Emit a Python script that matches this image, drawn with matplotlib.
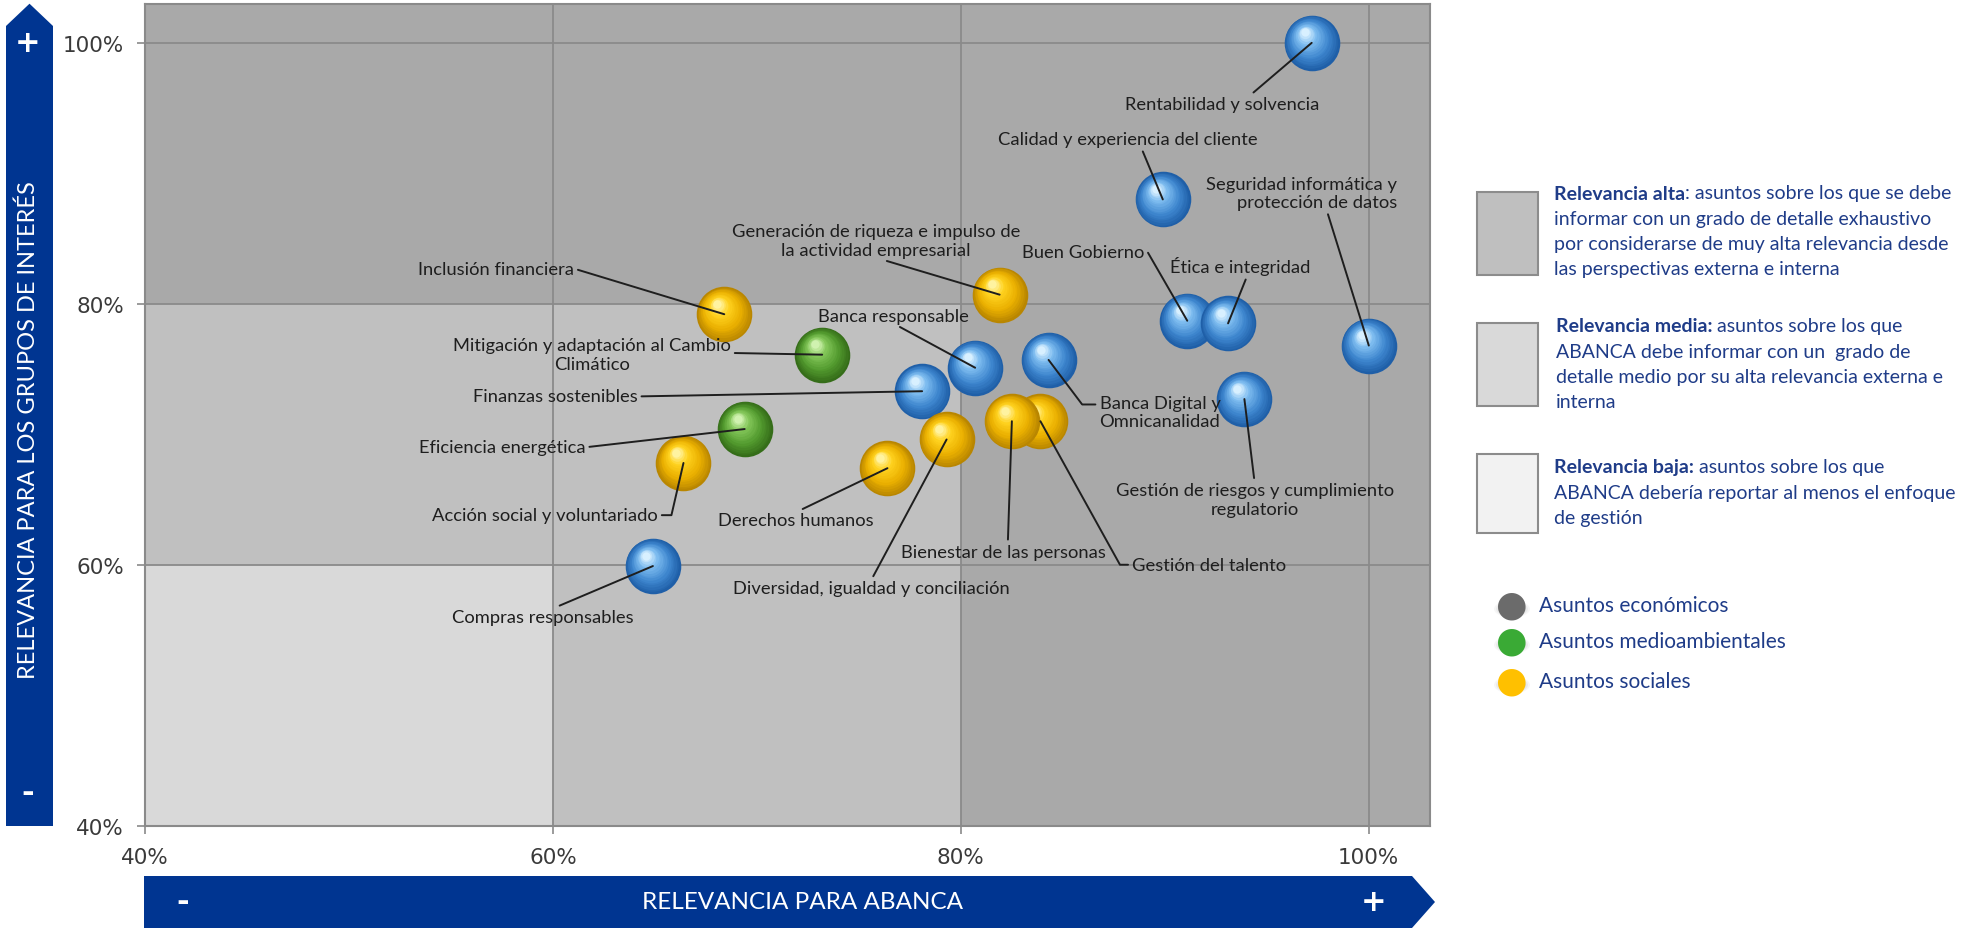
import matplotlib
matplotlib.use("Agg")
import numpy as np
import matplotlib.pyplot as plt
from matplotlib.patches import Rectangle, Polygon
from matplotlib.transforms import ScaledTranslation
from matplotlib.colors import to_rgb

# --- data -------------------------------------------------------------
topics = [
    "Rentabilidad y solvencia",
    "Calidad y experiencia del cliente",
    "Seguridad informática y\nprotección de datos",
    "Buen Gobierno",
    "Ética e integridad",
    "Gestión de riesgos y cumplimiento\nregulatorio",
    "Banca Digital y\nOmnicanalidad",
    "Banca responsable",
    "Finanzas sostenibles",
    "Generación de riqueza e impulso de\nla actividad empresarial",
    "Inclusión financiera",
    "Mitigación y adaptación al Cambio\nClimático",
    "Eficiencia energética",
    "Acción social y voluntariado",
    "Derechos humanos",
    "Diversidad, igualdad y conciliación",
    "Gestión del talento",
    "Bienestar de las personas",
    "Compras responsables",
]
relevance_abanca = [97.2, 89.9, 100.0, 91.1, 93.1, 93.9, 84.3, 80.7, 78.1, 81.9,
                    68.4, 73.2, 69.4, 66.4, 76.4, 79.3, 83.9, 82.5, 64.9]
relevance_stakeholders = [100.0, 88.0, 76.8, 78.7, 78.5, 72.7, 75.7, 75.1, 73.3, 80.7,
                          79.2, 76.1, 70.4, 67.8, 67.4, 69.6, 71.0, 71.0, 59.9]
category = ["eco", "eco", "eco", "eco", "eco", "eco", "eco", "eco", "eco", "soc",
            "soc", "env", "env", "soc", "soc", "soc", "soc", "soc", "eco"]

thresholds = [60, 80]
axis_ticks = [40, 60, 80, 100]
tick_labels = ["40%", "60%", "80%", "100%"]

legend_boxes = [
    ("Relevancia alta", ": asuntos sobre los que se debe",
     ["informar con un grado de detalle exhaustivo",
      "por considerarse de muy alta relevancia desde",
      "las perspectivas externa e interna"]),
    ("Relevancia media:", " asuntos sobre los que",
     ["ABANCA debe informar con un  grado de",
      "detalle medio por su alta relevancia externa e",
      "interna"]),
    ("Relevancia baja:", " asuntos sobre los que",
     ["ABANCA debería reportar al menos el enfoque",
      "de gestión"]),
]
legend_series = ["Asuntos económicos", "Asuntos medioambientales", "Asuntos sociales"]

# --- layout / styles ---------------------------------------------------
# label placement: (x, y, ha, relpos, connectionstyle)
label_layout = [
    (92.8, 95.3, "center", (0.64, 1), None),
    (88.2, 92.6, "center", (0.55, 0), None),
    (101.4, 88.5, "right", (0.63, 0), None),
    (89.0, 84.0, "right", (1, 0.5), "angle,angleA=0,angleB=120,rad=0"),
    (93.7, 82.9, "center", (0.55, 0), None),
    (94.4, 65.0, "center", (0.5, 1), None),
    (86.8, 71.7, "left", (0, 0.72), "angle,angleA=0,angleB=127,rad=0"),
    (76.7, 79.1, "center", (0.5, 0), None),
    (60.1, 72.9, "center", (1, 0.5), None),
    (75.85, 84.85, "center", (0.5, 0), None),
    (57.2, 82.7, "center", (1, 0.5), None),
    (61.9, 76.1, "center", (1, 0.55), None),
    (57.5, 69.0, "center", (1, 0.5), None),
    (59.6, 63.8, "center", (1, 0.5), "angle,angleA=0,angleB=77,rad=0"),
    (71.9, 63.4, "center", (0.5, 1), None),
    (75.6, 58.2, "center", (0.5, 1), None),
    (88.4, 60.0, "left", (0, 0.5), "angle,angleA=0,angleB=119,rad=0"),
    (82.1, 61.0, "center", (0.52, 1), None),
    (59.5, 56.0, "center", (0.55, 1), None),
]

palettes = {
    "eco": ["#1f5fa8", "#3f87cf", "#7fbdf0", "#d8f0ff"],
    "soc": ["#b98600", "#eab000", "#ffd21f", "#fff3a0"],
    "env": ["#356d19", "#529a2e", "#84c75a", "#d0f2b0"],
}
legend_dot_colors = ["#6b6b6b", "#3aaa35", "#ffc000"]

bg_dark, bg_mid, bg_light = "#a9a9a9", "#c0c0c0", "#d9d9d9"
grid_col = "#8a8a8a"
navy = "#003591"
legend_blue = "#1f3c88"
label_col = "#1e1e1e"

W, H = 1964, 929
fx = lambda px: px / W
fy = lambda py: 1 - py / H

fig = plt.figure(figsize=(W / 100, H / 100), dpi=100)
ax = fig.add_axes([fx(145), fy(826.7), (1430 - 145) / W, (826.7 - 4.7) / H])
ax.set_xlim(40, 103)
ax.set_ylim(40, 103)

# background zones
ax.set_facecolor(bg_dark)
lo, hi = thresholds
ax.add_patch(Rectangle((40, 40), hi - 40, hi - 40, facecolor=bg_mid, edgecolor="none", zorder=0.5))
ax.add_patch(Rectangle((40, 40), lo - 40, lo - 40, facecolor=bg_light, edgecolor="none", zorder=0.6))

ax.set_xticks(axis_ticks)
ax.set_xticklabels(tick_labels)
ax.set_yticks(axis_ticks)
ax.set_yticklabels(tick_labels)
ax.grid(True, color=grid_col, linewidth=1.3)
ax.tick_params(axis="both", direction="out", length=6, width=1.2, color=grid_col,
               labelsize=15.5, labelcolor="#3a3a3a", pad=9)
for s in ax.spines.values():
    s.set_color(grid_col)
    s.set_linewidth(1.5)


def mix(stops, t):
    pos = [0, 0.35, 0.75, 1.0]
    rgb = np.array([to_rgb(c) for c in stops])
    return tuple(np.interp(t, pos, rgb[:, k]) for k in range(3))


def draw_sphere(x, y, stops, diam=40, layers=16, z=3):
    r = diam / 2
    for i in range(layers):
        t = i / (layers - 1)
        f = 1 - 0.85 * t
        off = (1 - f) * r * 0.55
        tr = ax.transData + ScaledTranslation(-off * 0.55 / 72, off * 0.8 / 72, fig.dpi_scale_trans)
        ax.scatter([x], [y], s=(diam * f) ** 2, color=[mix(stops, t)], linewidths=0,
                   transform=tr, zorder=z)


for xv, yv, cat in zip(relevance_abanca, relevance_stakeholders, category):
    draw_sphere(xv, yv, palettes[cat])

for name, xv, yv, (tx, ty, ha, rp, conn) in zip(topics, relevance_abanca,
                                                relevance_stakeholders, label_layout):
    props = dict(arrowstyle="-", color=label_col, lw=1.4, relpos=rp, shrinkA=1, shrinkB=0)
    if conn:
        props["connectionstyle"] = conn
    ax.annotate(name, xy=(xv, yv), xytext=(tx, ty), ha=ha, va="center",
                multialignment=ha, fontsize=13.2, family="Lato", color=label_col,
                linespacing=1.2, arrowprops=props, zorder=5)

# --- axis arrows -------------------------------------------------------
yarrow = [(6, 827), (6, 27), (29.5, 4.7), (53, 27), (53, 827)]
fig.add_artist(Polygon([(fx(a), fy(b)) for a, b in yarrow], closed=True,
                       facecolor=navy, edgecolor="none", transform=fig.transFigure))
xarrow = [(144, 877), (1412, 877), (1435, 903), (1412, 929), (144, 929)]
fig.add_artist(Polygon([(fx(a), fy(b)) for a, b in xarrow], closed=True,
                       facecolor=navy, edgecolor="none", transform=fig.transFigure))

fig.text(fx(28), fy(430), "RELEVANCIA PARA LOS GRUPOS DE INTERÉS", rotation=90,
         ha="center", va="center", color="white", fontsize=17, family="Lato")
fig.text(fx(28), fy(44), "+", ha="center", va="center", color="white", fontsize=22,
         fontweight="bold", family="DejaVu Sans")
fig.text(fx(28), fy(794), "-", ha="center", va="center", color="white", fontsize=22,
         fontweight="bold", family="DejaVu Sans")
fig.text(fx(803), fy(903), "RELEVANCIA PARA ABANCA", ha="center", va="center",
         color="white", fontsize=17.5, family="Lato")
fig.text(fx(183), fy(903), "-", ha="center", va="center", color="white", fontsize=22,
         fontweight="bold", family="DejaVu Sans")
fig.text(fx(1374), fy(903), "+", ha="center", va="center", color="white", fontsize=22,
         fontweight="bold", family="DejaVu Sans")

# --- legend ------------------------------------------------------------
box_colors = ["#bfbfbf", "#d9d9d9", "#f2f2f2"]
box_y = [(193, 276), (324, 407), (455, 534)]
text_y0 = [194, 327, 468]
text_x = [1554, 1556, 1554]
for (bold, rest, lines), col, (y0, y1), ty, tx in zip(legend_boxes, box_colors, box_y,
                                                      text_y0, text_x):
    fig.add_artist(Rectangle((fx(1477), fy(y1)), (1538 - 1477) / W, (y1 - y0) / H,
                             facecolor=col, edgecolor="#8c8c8c", lw=1.5,
                             transform=fig.transFigure))
    tb = fig.text(fx(tx), fy(ty), bold, ha="left", va="center", color=legend_blue,
                  fontsize=14, fontweight="bold", family="Lato")
    ax.annotate(rest, xy=(1, 0.5), xycoords=tb, ha="left", va="center",
                color=legend_blue, fontsize=14, family="Lato", annotation_clip=False)
    for k, ln in enumerate(lines):
        fig.text(fx(tx), fy(ty + 25.3 * (k + 1)), ln, ha="left", va="center",
                 color=legend_blue, fontsize=14, family="Lato")

dot_y = [606, 642, 682]
for lab, c, yy in zip(legend_series, legend_dot_colors, dot_y):
    for k, a in enumerate([0.05, 0.07, 0.1]):
        fig.add_artist(plt.Circle((fx(1512), fy(yy + 4)), (18 - 2 * k) / W, color="#555555",
                                  alpha=a, transform=fig.transFigure, lw=0))
    fig.text(fx(1512), fy(yy), "●", ha="center", va="center", color=c, fontsize=26,
             family="DejaVu Sans")
    fig.text(fx(1539), fy(yy), lab, ha="left", va="center", color=legend_blue,
             fontsize=15, family="Lato")

fig.savefig("out.png", dpi=100)
